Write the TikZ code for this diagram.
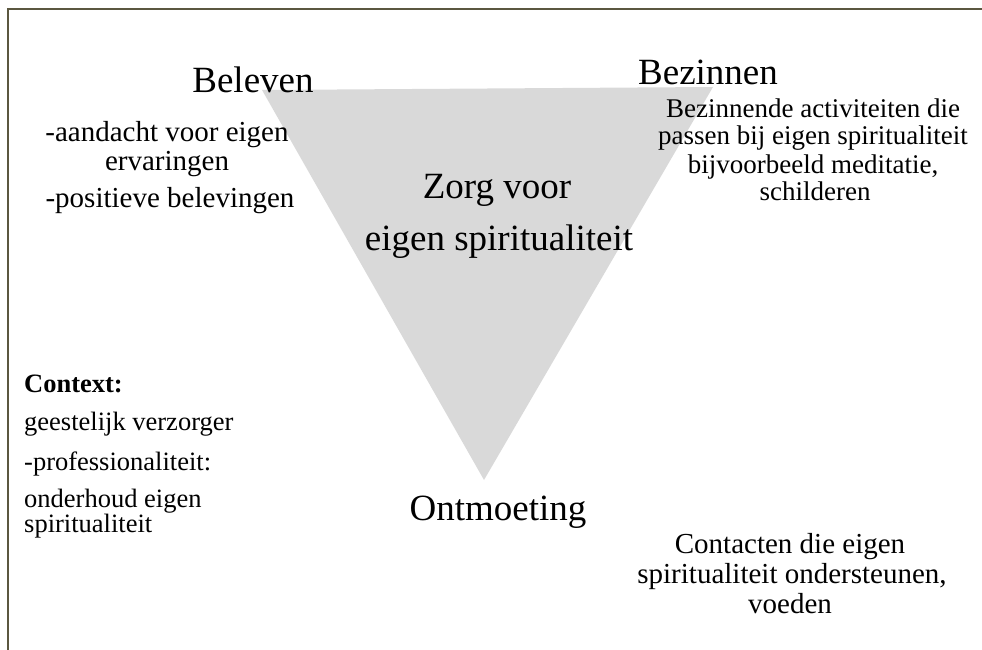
\documentclass[tikz,border=0pt]{standalone}
\usepackage{fontspec}
\setmainfont{Liberation Serif}
\definecolor{framecol}{HTML}{5B5740}
\definecolor{trifill}{HTML}{D9D9D9}
\tikzset{
  big/.style={inner sep=0pt, anchor=base, font=\fontsize{37}{40}\selectfont},
  small/.style={inner sep=0pt, anchor=base, font=\fontsize{29}{31}\selectfont},
  smallb/.style={inner sep=0pt, anchor=base, font=\fontsize{27}{29}\selectfont},
  ctx/.style={inner sep=0pt, anchor=base west, font=\fontsize{26.5}{28}\selectfont},
  ctxbold/.style={inner sep=0pt, anchor=base west, font=\fontsize{26.5}{28}\selectfont\bfseries},
  frameline/.style={draw=framecol, line width=2pt}
}
\begin{document}
\begin{tikzpicture}[x=1pt,y=-1pt]
\useasboundingbox (0,0) rectangle (982,650);
% frame
\coordinate (fbl) at (7.5,650);
\coordinate (ftl) at (7.5,9.5);
\coordinate (ftr) at (982,9.5);
\draw[frameline] (fbl) -- (ftl) -- (ftr);
% triangle
\coordinate (tl) at (262,90);
\coordinate (tr) at (713,87);
\coordinate (tb) at (484,480);
\fill[trifill] (tl) -- (tr) -- (tb) -- cycle;
% corner labels
\node[big] (beleven) at (253,93) {Beleven};
\node[big] (bezinnen) at (708,85) {Bezinnen};
\node[big] (ontmoeting) at (498,520) {Ontmoeting};
% centre
\node[big] (zorg1) at (497,198) {Zorg voor};
\node[big] (zorg2) at (499,250) {eigen spiritualiteit};
% beleven list
\node[small] (bl1) at (167,142) {-aandacht voor eigen};
\node[small] (bl2) at (167,170) {ervaringen};
\node[small] (bl3) at (170,207) {-positieve belevingen};
% bezinnen text
\node[smallb] (bz1) at (813,118) {Bezinnende activiteiten die};
\node[smallb] (bz2) at (813,145) {passen bij eigen spiritualiteit};
\node[smallb] (bz3) at (813,173) {bijvoorbeeld meditatie,};
\node[smallb] (bz4) at (815,200) {schilderen};
% ontmoeting text
\node[small] (ct1) at (790,553) {Contacten die eigen};
\node[small] (ct2) at (792,583) {spiritualiteit ondersteunen,};
\node[small] (ct3) at (790,613) {voeden};
% context
\node[ctxbold] (cx0) at (24,392) {Context:};
\node[ctx] (cx1) at (24,430) {geestelijk verzorger};
\node[ctx] (cx2) at (24,470) {-professionaliteit:};
\node[ctx] (cx3) at (24,507) {onderhoud eigen};
\node[ctx] (cx4) at (24,532) {spiritualiteit};
\end{tikzpicture}
\end{document}
